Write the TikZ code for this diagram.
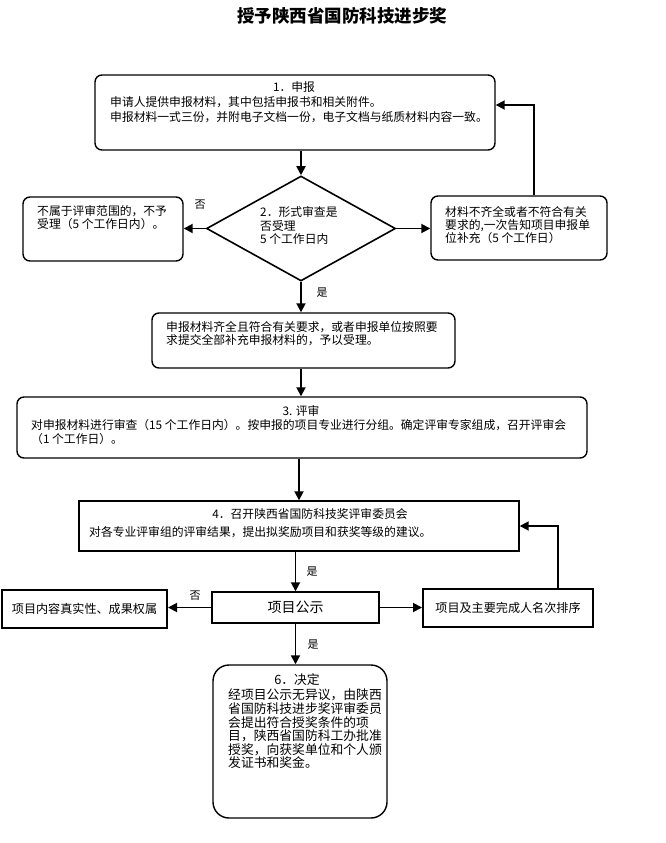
\documentclass[tikz,border=0pt]{standalone}
\usepackage{fontspec}
\newfontfamily\cjk{Noto Sans CJK SC}
\usetikzlibrary{arrows.meta,shapes.geometric}
\tikzset{
  rbox/.style={draw, line width=1.4pt, rounded corners=7pt, inner sep=0pt},
  sbox/.style={draw, line width=1.4pt, inner sep=0pt},
  flow/.style={line width=1.8pt, -{Triangle[length=9pt,width=9pt]}},
  txt/.style={inner sep=0pt, anchor=north west, align=left, font=\cjk\fontsize{11.8}{#1}\selectfont},
  txt/.default=14,
  head/.style={inner sep=0pt, font=\cjk\fontsize{11.8}{14}\selectfont},
  lbl/.style={inner sep=0pt, font=\cjk\fontsize{11}{13}\selectfont}
}
\begin{document}
\begin{tikzpicture}[x=1pt,y=-1pt]
    \useasboundingbox (0,0) rectangle (665,843);
    \node[inner sep=0pt, font=\cjk\bfseries\fontsize{17.5}{20}\selectfont] (title) at (342,16) {授予陕西省国防科技进步奖};

    \node[rbox, minimum width=400pt, minimum height=75pt] (apply) at (295,112.5) {};
    \node[head] (applyhead) at (294,87) {1．申报};
    \node[txt=15] (applytext) at (110,96.5) {申请人提供申报材料，其中包括申报书和相关附件。\\申报材料一式三份，并附电子文档一份，电子文档与纸质材料内容一致。};

    \node[draw, diamond, line width=1.6pt, inner sep=0pt, minimum width=189pt, minimum height=105pt] (check) at (301,228.5) {};
    \node[txt=13.5] (checktext) at (260,206.5) {2．形式审查是\\否受理\\5 个工作日内};

    \node[rbox, minimum width=160pt, minimum height=64pt] (reject) at (103,229) {};
    \node[txt=13] (rejecttext) at (37,205.5) {不属于评审范围的，不予\\受理（5 个工作日内）。};

    \node[rbox, minimum width=176pt, minimum height=64pt] (supply) at (519,228) {};
    \node[txt=13] (supplytext) at (445,206) {材料不齐全或者不符合有关\\要求的,一次告知项目申报单\\位补充（5 个工作日）};

    \node[rbox, minimum width=303pt, minimum height=55pt] (accept) at (303.5,340.5) {};
    \node[txt=13] (accepttext) at (166,321.5) {申报材料齐全且符合有关要求，或者申报单位按照要\\求提交全部补充申报材料的，予以受理。};

    \node[rbox, minimum width=570pt, minimum height=61pt] (review) at (302,427.5) {};
    \node[head] (reviewhead) at (301,411) {3. 评审};
    \node[txt=14] (reviewtext) at (31,419.5) {对申报材料进行审查（15 个工作日内）。按申报的项目专业进行分组。确定评审专家组成，召开评审会\\（1 个工作日）。};

    \node[sbox, minimum width=440pt, minimum height=50pt] (council) at (299,526) {};
    \node[head] (councilhead) at (310,514) {4．召开陕西省国防科技奖评审委员会};
    \node[txt] (counciltext) at (89,526.5) {对各专业评审组的评审结果，提出拟奖励项目和获奖等级的建议。};

    \node[sbox, minimum width=167pt, minimum height=31pt, font=\cjk\fontsize{14}{16}\selectfont] (publicity) at (295.5,607.5) {项目公示};
    \node[sbox, line width=2pt, minimum width=165pt, minimum height=38pt, font=\cjk\fontsize{12.1}{14}\selectfont] (verify) at (84.5,609) {项目内容真实性、成果权属};
    \node[sbox, line width=2pt, minimum width=170pt, minimum height=38pt, font=\cjk\fontsize{12.1}{14}\selectfont] (rank) at (508,608) {项目及主要完成人名次排序};

    \node[rbox, rounded corners=16pt, minimum width=174pt, minimum height=153pt] (decide) at (300,741.5) {};
    \node[inner sep=0pt, font=\cjk\fontsize{12.8}{14}\selectfont] (decidehead) at (297,680) {6．决定};
    \node[inner sep=0pt, anchor=north west, align=left, font=\cjk\fontsize{12.8}{13.6}\selectfont] (decidetext) at (228,689) {经项目公示无异议，由陕西\\省国防科技进步奖评审委员\\会提出符合授奖条件的项\\目，陕西省国防科工办批准\\授奖，向获奖单位和个人颁\\发证书和奖金。};

    \draw[flow] (apply.south -| check.north) -- (check.north);
    \draw[flow] (check.west) -- (check.west -| reject.east);
    \draw[flow] (check.east) -- (check.east -| supply.west);
    \draw[flow] ([xshift=15pt]supply.north) |- ([yshift=7.5pt]apply.east);
    \draw[flow] (check.south) -- (check.south |- accept.north);
    \draw[flow] (accept.south -| check.south) -- (check.south |- review.north);
    \draw[flow] (review.south -| council.north) -- (council.north);
    \draw[flow] (council.south -| publicity.north) -- (publicity.north);
    \draw[flow] (publicity.west) -- (publicity.west -| verify.east);
    \draw[flow] (publicity.east) -- (publicity.east -| rank.west);
    \draw[flow] ([xshift=50pt]rank.north) |- (council.east);
    \draw[flow] (publicity.south) -- (publicity.south |- decide.north);

    \node[lbl] (no1) at (200,205) {否};
    \node[lbl] (yes1) at (322,293) {是};
    \node[lbl] (yes2) at (312,572) {是};
    \node[lbl] (no2) at (195,596) {否};
    \node[lbl] (yes3) at (313,645) {是};
\end{tikzpicture}
\end{document}
